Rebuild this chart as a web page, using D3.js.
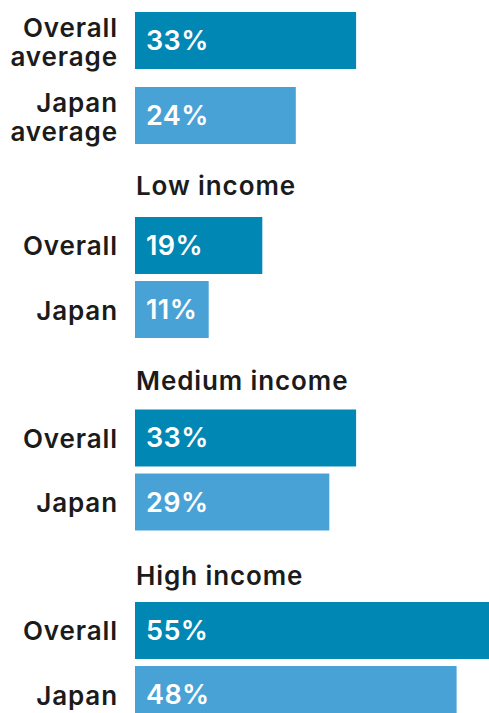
<!DOCTYPE html>
<html>
<head>
<meta charset="utf-8">
<script src="https://cdn.jsdelivr.net/npm/d3@7"></script>
<style>
  html, body { margin: 0; padding: 0; background: #fff; overflow: hidden; }
  svg { display: block; }
  text { font-family: Inter, "Noto Sans", sans-serif; }
</style>
</head>
<body>
<script>
// Share of respondents, by income group: overall vs Japan
const groupNames = ["Average", "Low income", "Medium income", "High income"];
const seriesNames = ["Overall", "Japan"];
const overallValues = [33, 19, 33, 55];
const japanValues = [24, 11, 29, 48];
const averageLabels = [["Overall", "average"], ["Japan", "average"]];

const width = 489, height = 713;
const colors = { Overall: "#0087b4", Japan: "#49a2d6" };
const ink = "#1b1b1b";

const svg = d3.select("body").append("svg")
  .attr("width", width)
  .attr("height", height);

const x = d3.scaleLinear().domain([0, 100]).range([135, 805]);

// Heading baselines and first-bar tops for the income groups
const headingY = d3.scaleLinear().domain([1, 3]).range([195, 585]);
const groupTop = d3.scaleLinear().domain([1, 3]).range([217, 602]);

function rowScale(gi) {
  if (gi === 0) {
    return d3.scaleBand().domain(seriesNames).range([12, 144]).paddingInner(0.24);
  }
  const top = groupTop(gi);
  return d3.scaleBand().domain(seriesNames).range([top, top + 121]).paddingInner(0.11);
}

groupNames.forEach((name, gi) => {
  const y = rowScale(gi);
  const g = svg.append("g");
  const rows = seriesNames.map((s, si) => ({
    series: s,
    value: si === 0 ? overallValues[gi] : japanValues[gi],
    label: gi === 0 ? averageLabels[si] : [s]
  }));

  if (gi > 0) {
    g.append("text")
      .attr("x", 136)
      .attr("y", headingY(gi))
      .attr("fill", ink)
      .attr("font-size", 26)
      .attr("font-weight", 600)
      .attr("letter-spacing", 0.9)
      .text(name);
  }

  g.selectAll("rect").data(rows).join("rect")
    .attr("x", x(0))
    .attr("y", d => y(d.series))
    .attr("width", d => x(d.value) - x(0))
    .attr("height", y.bandwidth())
    .attr("fill", d => colors[d.series]);

  g.selectAll("text.value").data(rows).join("text")
    .attr("class", "value")
    .attr("x", x(0) + 11)
    .attr("y", d => y(d.series) + y.bandwidth() / 2 + 9.5)
    .attr("fill", "#fff")
    .attr("font-size", 27)
    .attr("font-weight", 600)
    .attr("letter-spacing", 0.4)
    .text(d => `${d.value}%`);

  const labels = g.selectAll("text.cat").data(rows).join("text")
    .attr("class", "cat")
    .attr("text-anchor", "end")
    .attr("fill", ink)
    .attr("font-size", 26)
    .attr("font-weight", 600)
    .attr("letter-spacing", 0.9);

  labels.each(function (d) {
    const t = d3.select(this);
    const mid = y(d.series) + y.bandwidth() / 2;
    if (d.label.length === 1) {
      t.append("tspan").attr("x", 118).attr("y", mid + 10).text(d.label[0]);
    } else {
      d.label.forEach((line, li) => {
        t.append("tspan").attr("x", 118).attr("y", mid - 3.5 + li * 29).text(line);
      });
    }
  });
});
</script>
</body>
</html>
